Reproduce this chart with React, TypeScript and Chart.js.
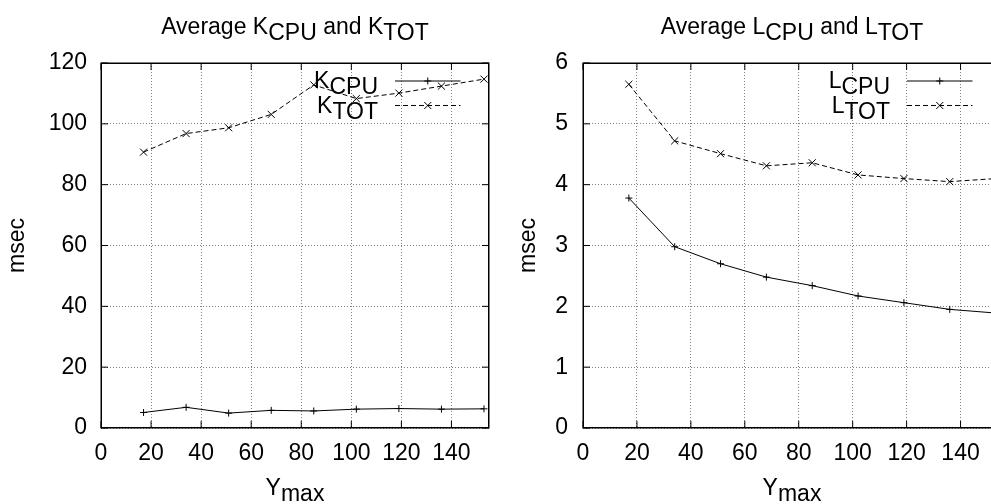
import React, { useEffect, useRef } from "react";
import { Chart, registerables } from "chart.js";

Chart.register(...registerables);

// ---- data ----
const xValues = [17, 34, 51, 68, 85, 102, 119, 136, 153];
const kCpu = [5.1, 6.8, 4.9, 5.8, 5.6, 6.2, 6.4, 6.2, 6.3];
const kTot = [90.7, 96.8, 98.7, 103.1, 112.8, 108.3, 110.1, 112.4, 114.7];
const lCpu = [3.78, 2.98, 2.7, 2.48, 2.34, 2.17, 2.06, 1.95, 1.89];
const lTot = [5.65, 4.72, 4.51, 4.31, 4.36, 4.16, 4.1, 4.05, 4.1];
const xTickValues = [0, 20, 40, 60, 80, 100, 120, 140];
const kYTickValues = [0, 20, 40, 60, 80, 100, 120];
const lYTickValues = [0, 1, 2, 3, 4, 5, 6];

const FONT_FAMILY = "'Liberation Sans', Arial, sans-serif";
const FONT_SIZE = 23;
const FONT = `${FONT_SIZE}px ${FONT_FAMILY}`;
const SUB_SHIFT = 6;

type Part = { t: string; sub?: boolean };

function partsWidth(ctx: CanvasRenderingContext2D, parts: Part[]) {
  return parts.reduce((w, p) => w + ctx.measureText(p.t).width, 0);
}

function drawParts(ctx: CanvasRenderingContext2D, parts: Part[], x: number, y: number) {
  let cx = x;
  for (const p of parts) {
    ctx.fillText(p.t, cx, y + (p.sub ? SUB_SHIFT : 0));
    cx += ctx.measureText(p.t).width;
  }
}

type Cfg = {
  title: Part[];
  legend: { label: Part[]; marker: "plus" | "x"; dashed: boolean }[];
  yTitleX: number;
  yTicks: number[];
};

function makePlugin(cfg: Cfg) {
  return {
    id: "gnuplotDecor",
    afterDraw(chart: any) {
      const ctx: CanvasRenderingContext2D = chart.ctx;
      const { left, right, top, bottom } = chart.chartArea;
      const xs = chart.scales.x;
      const ys = chart.scales.y;
      ctx.save();
      ctx.strokeStyle = "#000";
      ctx.fillStyle = "#000";
      ctx.lineWidth = 1;
      ctx.setLineDash([]);
      // border box
      ctx.strokeRect(left + 0.5, top + 0.5, right - left - 1, bottom - top - 1);
      ctx.strokeRect(left, top, right - left, bottom - top);
      // inward ticks
      ctx.beginPath();
      for (const v of xTickValues) {
        const px = xs.getPixelForValue(v);
        ctx.moveTo(px, bottom);
        ctx.lineTo(px, bottom - 7);
        ctx.moveTo(px, top);
        ctx.lineTo(px, top + 7);
      }
      for (const v of cfg.yTicks) {
        const py = ys.getPixelForValue(v);
        ctx.moveTo(left, py);
        ctx.lineTo(left + 7, py);
        ctx.moveTo(right, py);
        ctx.lineTo(right - 7, py);
      }
      ctx.stroke();

      ctx.font = FONT;
      ctx.textBaseline = "alphabetic";
      ctx.textAlign = "left";
      const cxMid = (left + right) / 2;
      // title
      const tw = partsWidth(ctx, cfg.title);
      drawParts(ctx, cfg.title, cxMid - tw / 2, 33.5);
      // x title
      const xt: Part[] = [{ t: "Y" }, { t: "max", sub: true }];
      const xw = partsWidth(ctx, xt);
      drawParts(ctx, xt, cxMid - xw / 2, 495);
      // y title
      ctx.save();
      ctx.translate(cfg.yTitleX, (top + bottom) / 2);
      ctx.rotate(-Math.PI / 2);
      ctx.textAlign = "center";
      ctx.textBaseline = "middle";
      ctx.fillText("msec", 0, 0);
      ctx.restore();

      // legend
      cfg.legend.forEach((entry, i) => {
        const ly = top + 18 + i * 24.5;
        const textEnd = right - 111;
        const w = partsWidth(ctx, entry.label);
        ctx.textAlign = "left";
        drawParts(ctx, entry.label, textEnd - w, ly + 7);
        const x1 = right - 94;
        const x2 = right - 28.5;
        ctx.beginPath();
        ctx.setLineDash(entry.dashed ? [5, 3] : []);
        ctx.moveTo(x1, ly);
        ctx.lineTo(x2, ly);
        ctx.stroke();
        ctx.setLineDash([]);
        const mx = (x1 + x2) / 2;
        ctx.beginPath();
        if (entry.marker === "plus") {
          ctx.moveTo(mx - 3.5, ly);
          ctx.lineTo(mx + 3.5, ly);
          ctx.moveTo(mx, ly - 3.5);
          ctx.lineTo(mx, ly + 3.5);
        } else {
          ctx.moveTo(mx - 3.5, ly - 3.5);
          ctx.lineTo(mx + 3.5, ly + 3.5);
          ctx.moveTo(mx - 3.5, ly + 3.5);
          ctx.lineTo(mx + 3.5, ly - 3.5);
        }
        ctx.stroke();
      });
      ctx.restore();
    },
  };
}

function series(values: number[]) {
  return xValues.map((x, i) => ({ x, y: values[i] }));
}

type PanelProps = {
  width: number;
  yAxisWidth: number;
  yMax: number;
  yStep: number;
  yPad: number;
  cpu: number[];
  tot: number[];
  cfg: Cfg;
};

function Panel(props: PanelProps) {
  const ref = useRef<HTMLCanvasElement | null>(null);
  useEffect(() => {
    if (!ref.current) return;
    const { width, yAxisWidth, yMax, yStep, yPad, cpu, tot, cfg } = props;
    const tickFont = { family: FONT_FAMILY, size: FONT_SIZE };
    const chart = new Chart(ref.current, {
      type: "line",
      data: {
        datasets: [
          {
            data: series(cpu),
            borderColor: "#000",
            borderWidth: 1,
            pointStyle: "cross",
            pointRadius: 3.5,
            pointBorderColor: "#000",
            pointBorderWidth: 1,
            fill: false,
            tension: 0,
          },
          {
            data: series(tot),
            borderColor: "#000",
            borderWidth: 1,
            borderDash: [5, 3],
            pointStyle: "crossRot",
            pointRadius: 5,
            pointBorderColor: "#000",
            pointBorderWidth: 1,
            fill: false,
            tension: 0,
          },
        ],
      },
      options: {
        animation: false,
        responsive: false,
        devicePixelRatio: 1,
        layout: { padding: { top: 63, right: width - (yAxisWidth + (props.width === 495 ? 389 : 419)), left: 0, bottom: 0 } },
        plugins: { legend: { display: false }, tooltip: { enabled: false }, title: { display: false } },
        scales: {
          x: {
            type: "linear",
            min: 0,
            max: 155,
            ticks: {
              stepSize: 20,
              includeBounds: false,
              color: "#000",
              font: tickFont,
              padding: 12,
              maxRotation: 0,
              autoSkip: false,
            },
            grid: { color: "rgba(0,0,0,0.5)", lineWidth: 1, drawTicks: false },
            border: { display: false, dash: [1, 2] },
            afterFit: (s: any) => {
              s.height = 76;
            },
          },
          y: {
            type: "linear",
            min: 0,
            max: yMax,
            ticks: {
              stepSize: yStep,
              color: "#000",
              font: tickFont,
              padding: yPad,
            },
            grid: { color: "rgba(0,0,0,0.5)", lineWidth: 1, drawTicks: false },
            border: { display: false, dash: [1, 2] },
            afterFit: (s: any) => {
              s.width = yAxisWidth;
            },
          },
        },
      } as any,
      plugins: [makePlugin(cfg)],
    });
    return () => chart.destroy();
  }, []);
  return <canvas ref={ref} width={props.width} height={504} style={{ display: "block" }} />;
}

const leftCfg: Cfg = {
  title: [
    { t: "Average K" },
    { t: "CPU", sub: true },
    { t: " and K" },
    { t: "TOT", sub: true },
  ],
  legend: [
    { label: [{ t: "K" }, { t: "CPU", sub: true }], marker: "plus", dashed: false },
    { label: [{ t: "K" }, { t: "TOT", sub: true }], marker: "x", dashed: true },
  ],
  yTitleX: 17.5,
  yTicks: kYTickValues,
};

const rightCfg: Cfg = {
  title: [
    { t: "Average L" },
    { t: "CPU", sub: true },
    { t: " and L" },
    { t: "TOT", sub: true },
  ],
  legend: [
    { label: [{ t: "L" }, { t: "CPU", sub: true }], marker: "plus", dashed: false },
    { label: [{ t: "L" }, { t: "TOT", sub: true }], marker: "x", dashed: true },
  ],
  yTitleX: 34,
  yTicks: lYTickValues,
};

export default function App() {
  return (
    <div
      style={{
        position: "fixed",
        left: 0,
        top: 0,
        width: 991,
        height: 504,
        overflow: "hidden",
        background: "#fff",
      }}
    >
      <div style={{ position: "absolute", left: 0, top: 0 }}>
        <Panel width={495} yAxisWidth={101} yMax={120} yStep={20} yPad={14} cpu={kCpu} tot={kTot} cfg={leftCfg} />
      </div>
      <div style={{ position: "absolute", left: 495, top: 0 }}>
        <Panel width={512} yAxisWidth={88} yMax={6} yStep={1} yPad={15} cpu={lCpu} tot={lTot} cfg={rightCfg} />
      </div>
    </div>
  );
}
